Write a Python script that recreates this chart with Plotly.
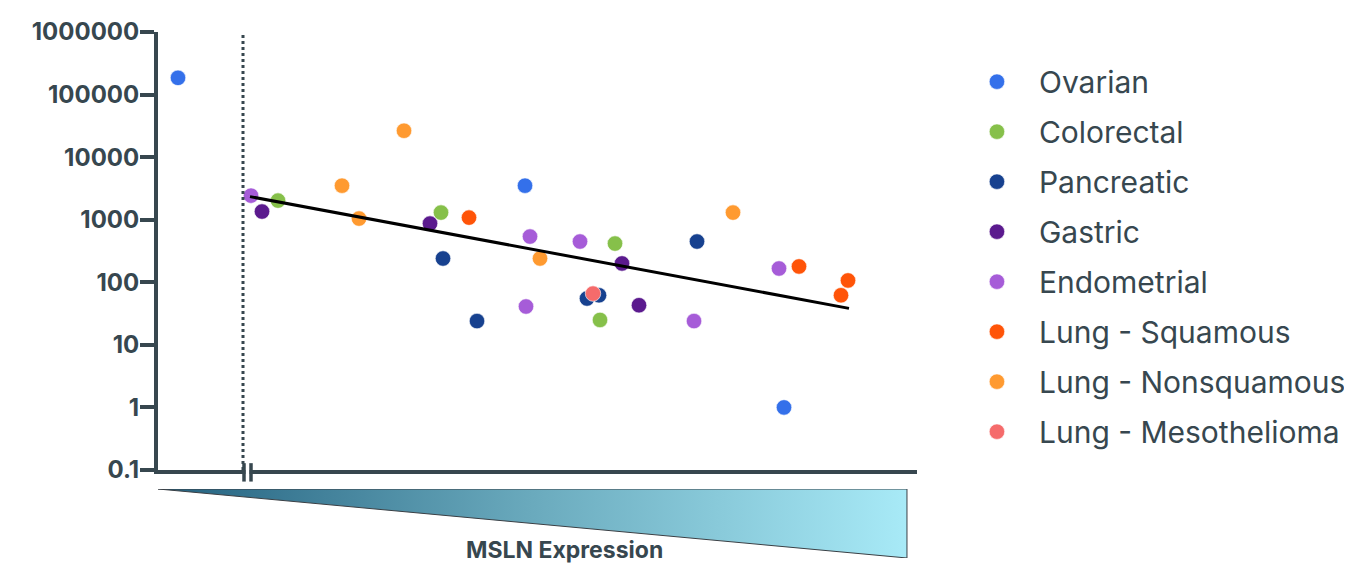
import plotly.graph_objects as go

# ---- data (x = relative MSLN expression rank, y = value) ----
categories = ["Ovarian", "Colorectal", "Pancreatic", "Gastric", "Endometrial",
              "Lung - Squamous", "Lung - Nonsquamous", "Lung - Mesothelioma"]
colors = ["#3470ea", "#86c04a", "#17418f", "#5b1a8e", "#a65cd8",
          "#ff5408", "#ff9a30", "#f56b6b"]

ovarian_x = [22, 369, 628]
ovarian_y = [185000, 3500, 1]
colorectal_x = [122, 285, 459, 444]
colorectal_y = [2020, 1300, 416, 25]
pancreatic_x = [287, 321, 431, 443, 541]
pancreatic_y = [240, 24, 55, 62, 448]
gastric_x = [106, 274, 466, 483]
gastric_y = [1350, 867, 200, 43]
endometrial_x = [95, 374, 424, 370, 538, 623]
endometrial_y = [2425, 538, 448, 41, 24, 166]
squamous_x = [313, 643, 692, 685]
squamous_y = [1080, 179, 107, 62]
nonsquamous_x = [186, 248, 203, 384, 577]
nonsquamous_y = [3500, 26400, 1043, 240, 1300]
meso_x = [437]
meso_y = [66]

series_x = [ovarian_x, colorectal_x, pancreatic_x, gastric_x, endometrial_x,
            squamous_x, nonsquamous_x, meso_x]
series_y = [ovarian_y, colorectal_y, pancreatic_y, gastric_y, endometrial_y,
            squamous_y, nonsquamous_y, meso_y]

trend_x = [94, 693]
trend_y = [2340, 38.3]

break_x = 87
x_range = [2, 761]

tick_vals = [0.1, 1, 10, 100, 1000, 10000, 100000, 1000000]
tick_text = ["0.1", "1", "10", "100", "1000", "10000", "100000", "1000000"]

axis_color = "#37474f"
main_bottom = 0.1673

fig = go.Figure()

# gradient triangle (MSLN expression indicator)
fig.add_trace(go.Scatter(
    x=[0.0, 0.9868, 0.9868, 0.0], y=[1, 1, 0, 1],
    xaxis="x2", yaxis="y2", mode="lines", fill="toself",
    line=dict(color="#3a3f44", width=1),
    fillgradient=dict(type="horizontal",
                      colorscale=[[0, "#23617f"], [0.5, "#6aaabd"], [1, "#a8eaf7"]]),
    showlegend=False, hoverinfo="skip"))

for name, c, xs, ys in zip(categories, colors, series_x, series_y):
    fig.add_trace(go.Scatter(
        x=xs, y=ys, mode="markers", name=name, legendgroup=name,
        marker=dict(size=15.5, color=c, line=dict(color="white", width=0.6))))

fig.add_trace(go.Scatter(x=trend_x, y=trend_y, mode="lines",
                         line=dict(color="black", width=3),
                         showlegend=False, hoverinfo="skip"))

# dotted break line
fig.add_shape(type="line", xref="x", yref="paper", x0=break_x, x1=break_x,
              y0=main_bottom, y1=1, line=dict(color=axis_color, width=3, dash="dot"))
# axis break mark
fig.add_shape(type="rect", xref="x", yref="paper", x0=break_x + 2.5, x1=break_x + 6.5,
              y0=main_bottom - 0.016, y1=main_bottom + 0.008, fillcolor="white",
              line=dict(width=0), layer="above")
for bx in [break_x + 1, break_x + 8]:
    fig.add_shape(type="line", xref="x", yref="paper", x0=bx, x1=bx,
                  y0=main_bottom - 0.022, y1=main_bottom + 0.013,
                  line=dict(color=axis_color, width=3.5), layer="above")

fig.add_annotation(text="<b>MSLN Expression</b>", xref="paper", yref="paper",
                   x=0.536, y=0.0152, xanchor="center", yanchor="middle",
                   showarrow=False, font=dict(size=23, color=axis_color, family="Inter"))

fig.update_layout(
    width=1352, height=563, autosize=False,
    margin=dict(l=150, r=443, t=24, b=13, autoexpand=False),
    paper_bgcolor="white", plot_bgcolor="white",
    font=dict(family="Inter", color=axis_color),
    xaxis=dict(range=x_range, domain=[0, 1], anchor="y", showline=True, linewidth=4,
               linecolor=axis_color, showgrid=False, zeroline=False, automargin=False,
               showticklabels=False, ticks=""),
    yaxis=dict(type="log", range=[-1, 6], domain=[main_bottom, 1], anchor="x",
               showline=True, linewidth=4, linecolor=axis_color, showgrid=False,
               zeroline=False, tickvals=tick_vals, ticktext=tick_text, automargin=False,
               ticks="outside", ticklen=14, tickwidth=4, tickcolor=axis_color,
               ticklabelstandoff=-4,
               tickfont=dict(size=24, color=axis_color, family="Inter", weight="bold")),
    xaxis2=dict(range=[0, 1], domain=[0, 1], anchor="y2", visible=False, automargin=False),
    yaxis2=dict(range=[0, 1], domain=[0, 0.1312], anchor="x2", visible=False, automargin=False),
    legend=dict(x=1.050, y=0.955, xanchor="left", yanchor="top",
                font=dict(size=30, color=axis_color, family="Inter"),
                itemwidth=74, tracegroupgap=8, bgcolor="rgba(0,0,0,0)"),
    showlegend=True,
)

fig.write_html("out.html")
